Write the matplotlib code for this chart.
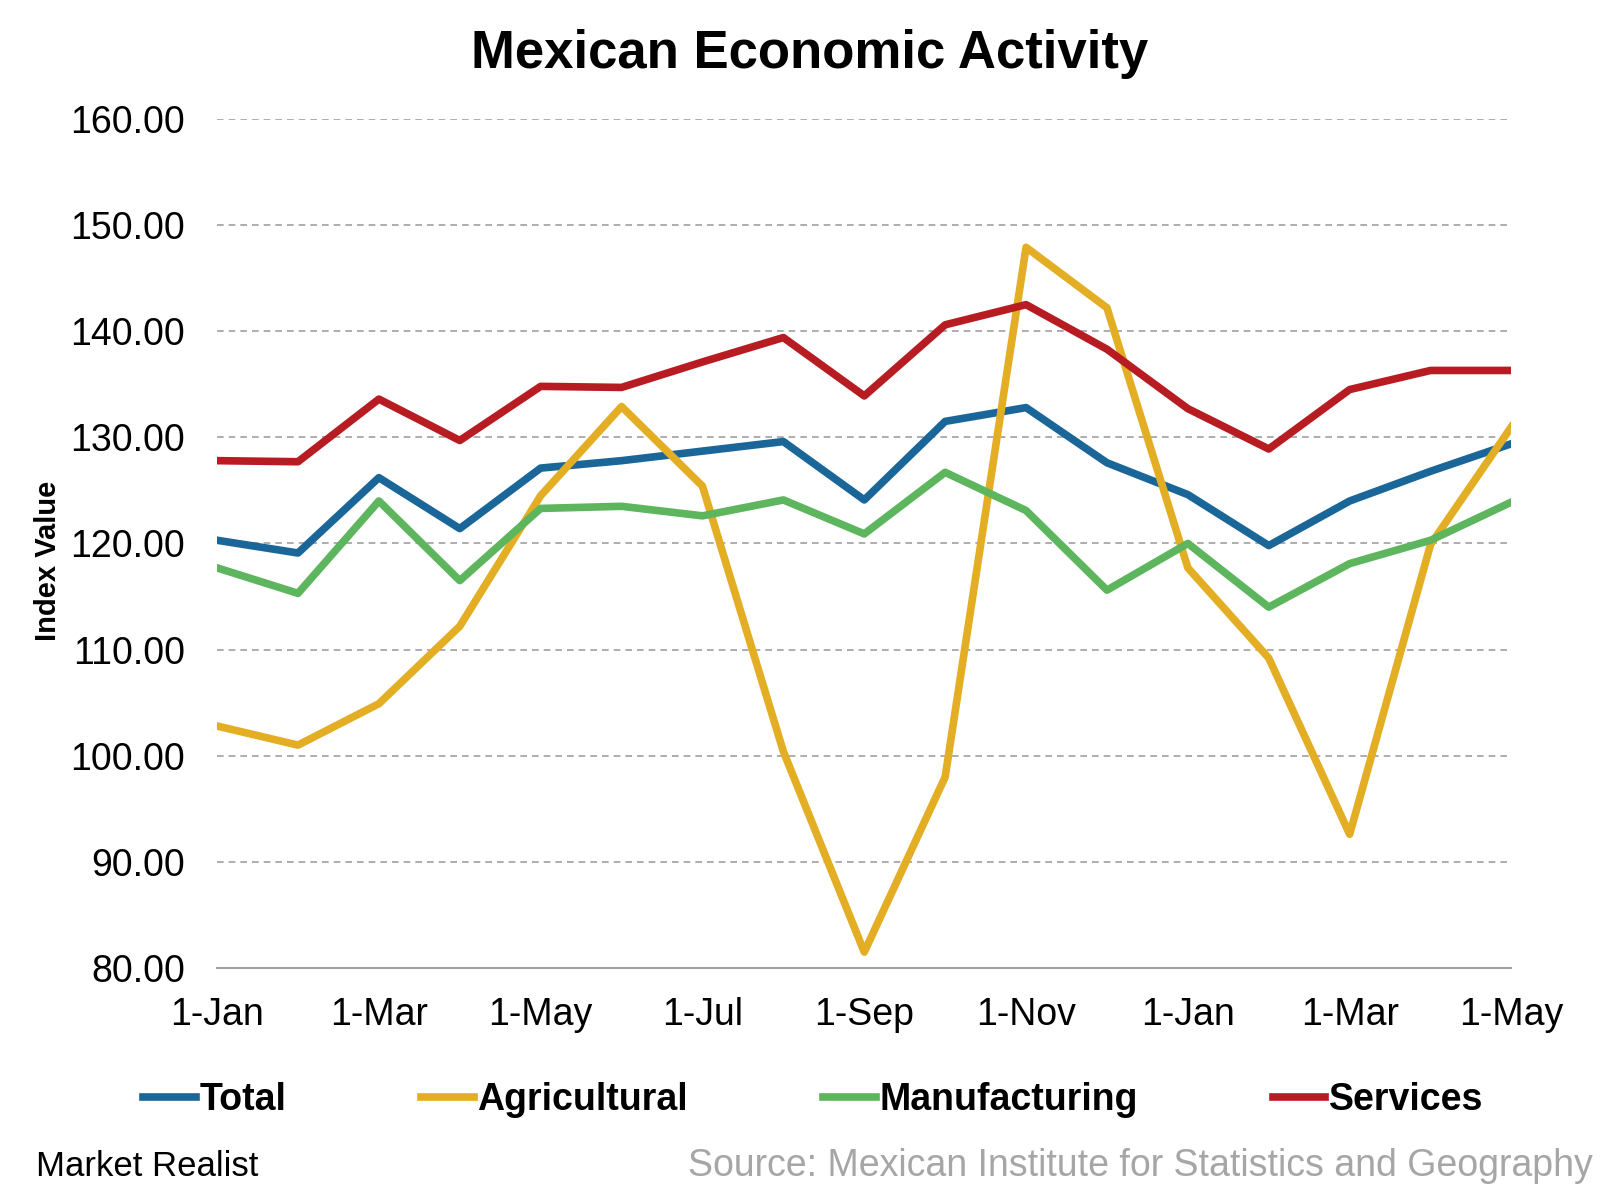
import matplotlib.pyplot as plt
import numpy as np

plt.rcParams['font.family'] = ['Liberation Sans', 'DejaVu Sans']

# monthly index values, Jan of year 1 through May of year 2
months = ['1-Jan', '1-Feb', '1-Mar', '1-Apr', '1-May', '1-Jun', '1-Jul', '1-Aug',
          '1-Sep', '1-Oct', '1-Nov', '1-Dec', '1-Jan', '1-Feb', '1-Mar', '1-Apr', '1-May']
total = [120.3, 119.1, 126.2, 121.4, 127.1, 127.8, 128.7, 129.6, 124.1,
         131.5, 132.8, 127.6, 124.6, 119.8, 124.0, 126.8, 129.4]
agricultural = [102.8, 101.0, 104.9, 112.2, 124.5, 132.9, 125.4, 100.4, 81.5,
                98.0, 147.9, 142.2, 117.7, 109.2, 92.6, 119.9, 131.0]
manufacturing = [117.7, 115.3, 124.0, 116.5, 123.3, 123.5, 122.6, 124.1, 120.9,
                 126.7, 123.1, 115.6, 120.0, 114.0, 118.1, 120.3, 123.9]
services = [127.8, 127.7, 133.6, 129.7, 134.8, 134.7, 137.1, 139.4, 133.9,
            140.6, 142.5, 138.3, 132.7, 128.9, 134.5, 136.3, 136.3]

fig = plt.figure(figsize=(16.2, 12.01), dpi=100)
ax = fig.add_axes([0.134, 0.194, 0.799, 0.707])

x = np.arange(len(months))
ax.plot(x, total, color='#1a6699', lw=5.5, label='Total')
ax.plot(x, agricultural, color='#e3ae24', lw=5.5, label='Agricultural')
ax.plot(x, manufacturing, color='#5db55e', lw=5.5, label='Manufacturing')
ax.plot(x, services, color='#b81c23', lw=5.5, label='Services')

ax.set_xlim(0, len(months) - 1)
ax.set_ylim(80, 160)
ax.set_yticks(np.arange(80, 161, 10))
ax.set_yticklabels([f'{v:.2f}' for v in np.arange(80, 161, 10)])
ax.set_xticks(x[::2])
ax.set_xticklabels(months[::2])
ax.tick_params(axis='both', length=0, labelsize=27)
ax.tick_params(axis='x', pad=21)
ax.tick_params(axis='y', pad=23)

ax.grid(axis='y', color='#a0a0a0', linestyle=(0, (4, 3)), lw=1.2)
ax.set_axisbelow(True)
for s in ['top', 'right', 'left']:
    ax.spines[s].set_visible(False)
ax.spines['bottom'].set_color('#a0a0a0')
ax.spines['bottom'].set_linewidth(1.5)

ax.set_ylabel('Index Value', fontsize=21, fontweight='bold')
ax.yaxis.set_label_coords(-0.12, 0.48)

fig.text(0.5, 0.955, 'Mexican Economic Activity', ha='center', va='center',
         fontsize=38, fontweight='bold')

leg = fig.legend(loc='center', bbox_to_anchor=(0.502, 0.084), ncol=4, frameon=False,
                 prop={'size': 27, 'weight': 'bold'}, handlelength=1.4,
                 handletextpad=0.1, columnspacing=3.6)

fig.text(0.022, 0.029, 'Market Realist', fontsize=25, ha='left', va='center',
         stretch='condensed')
fig.text(0.983, 0.029, 'Source: Mexican Institute for Statistics and Geography',
         fontsize=27, ha='right', va='center', color='#a6a6a6')

fig.savefig('out.png', dpi=100)
